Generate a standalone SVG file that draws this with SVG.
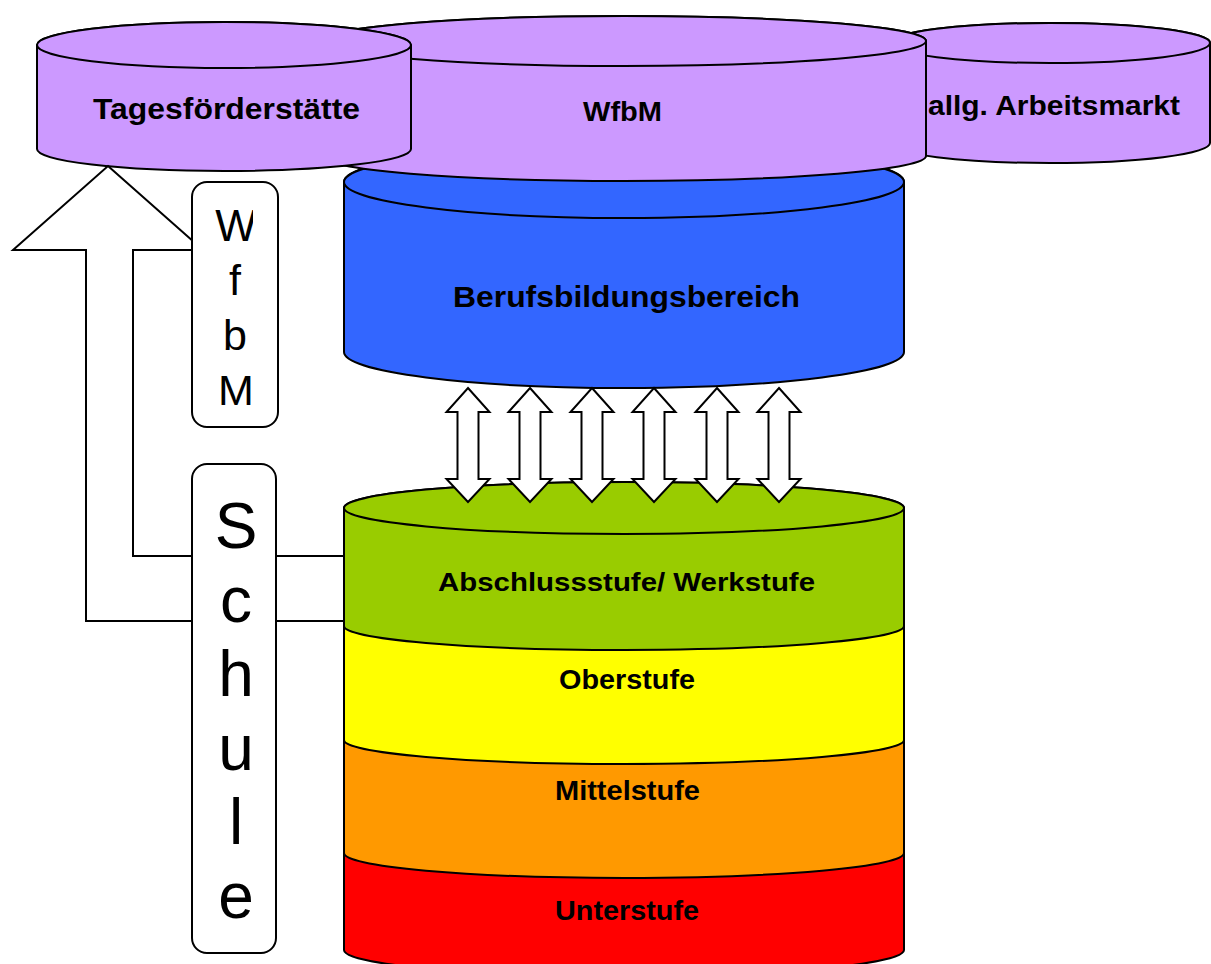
<svg xmlns="http://www.w3.org/2000/svg" xmlns:xlink="http://www.w3.org/1999/xlink" width="1211" height="964" viewBox="0 0 1211 964">
<style>
.cyl{stroke:#000;stroke-width:2;stroke-linejoin:round}
.purple{fill:#CC99FF}
.blue{fill:#3366FF}
.green{fill:#99CC00}
.yellow{fill:#FFFF00}
.orange{fill:#FF9900}
.red{fill:#FF0000}
.lbl{font-family:"Liberation Sans",Arial,sans-serif;font-weight:bold;fill:#000;text-anchor:middle}
.vert{font-family:"Liberation Sans",Arial,sans-serif;fill:#000;text-anchor:middle}
.box{fill:#fff;stroke:#000;stroke-width:2}
.arr{fill:#fff;stroke:#000;stroke-width:2;stroke-linejoin:miter}
</style>
<defs>
<path id="dbl" d="M0,388 L21.5,412 L10.5,412 L10.5,479 L21.5,479 L0,502 L-21.5,479 L-10.5,479 L-10.5,412 L-21.5,412 Z"/>
<clipPath id="wclip"><rect x="192" y="182" width="61" height="245"/></clipPath>
</defs>
<rect width="1211" height="964" fill="#fff"/>

<g id="berufsbildungsbereich">
<path class="cyl blue" d="M344,182 L344,352 A280,36 0 0 0 904,352 L904,182 A280,36 0 0 0 344,182 Z"/>
<ellipse class="cyl blue" cx="624" cy="182" rx="280" ry="36"/>
<text class="lbl" x="626.5" y="307" font-size="29" textLength="347" lengthAdjust="spacingAndGlyphs">Berufsbildungsbereich</text>
</g>

<g id="arbeitsmarkt">
<path class="cyl purple" d="M890,43 L890,143 A160,20 0 0 0 1210,143 L1210,43 A160,20 0 0 0 890,43 Z"/>
<ellipse class="cyl purple" cx="1050" cy="43" rx="160" ry="20"/>
<text class="lbl" x="1054" y="115" font-size="28" textLength="252" lengthAdjust="spacingAndGlyphs">allg. Arbeitsmarkt</text>
</g>

<g id="wfbm">
<path class="cyl purple" d="M322,41 L322,156 A302,25 0 0 0 926,156 L926,41 A302,25 0 0 0 322,41 Z"/>
<ellipse class="cyl purple" cx="624" cy="41" rx="302" ry="25"/>
<text class="lbl" x="622.5" y="121" font-size="28" textLength="79" lengthAdjust="spacingAndGlyphs">WfbM</text>
</g>

<g id="tagesfoerderstaette">
<path class="cyl purple" d="M37,45 L37,149 A187,22 0 0 0 411,149 L411,45 A187,23 0 0 0 37,45 Z"/>
<ellipse class="cyl purple" cx="224" cy="45" rx="187" ry="23"/>
<text class="lbl" x="226.5" y="119" font-size="30" textLength="267" lengthAdjust="spacingAndGlyphs">Tagesförderstätte</text>
</g>

<g id="unterstufe">
<path class="cyl red" d="M344,853 L344,950 A280,26 0 0 0 904,950 L904,853 A280,26 0 0 0 344,853 Z"/>
<text class="lbl" x="627" y="920" font-size="27" textLength="144" lengthAdjust="spacingAndGlyphs">Unterstufe</text>
</g>

<g id="mittelstufe">
<path class="cyl orange" d="M344,740 L344,853 A280,25 0 0 0 904,853 L904,740 A280,25 0 0 0 344,740 Z"/>
<text class="lbl" x="627.5" y="800" font-size="27" textLength="145" lengthAdjust="spacingAndGlyphs">Mittelstufe</text>
</g>

<g id="oberstufe">
<path class="cyl yellow" d="M344,626 L344,740 A280,24 0 0 0 904,740 L904,626 A280,24 0 0 0 344,626 Z"/>
<text class="lbl" x="627" y="689" font-size="27" textLength="136" lengthAdjust="spacingAndGlyphs">Oberstufe</text>
</g>

<g id="abschlussstufe">
<path class="cyl green" d="M344,508 L344,626 A280,24 0 0 0 904,626 L904,508 A280,26 0 0 0 344,508 Z"/>
<ellipse class="cyl green" cx="624" cy="508" rx="280" ry="26"/>
<text class="lbl" x="626.5" y="591" font-size="26.5" textLength="377" lengthAdjust="spacingAndGlyphs">Abschlussstufe/ Werkstufe</text>
</g>

<g id="connectors">
<polygon class="arr" stroke-width="1.6" points="108,166 203,250 133,250 133,556 344,556 344,621 86,621 86,250 13,250"/>
<use xlink:href="#dbl" href="#dbl" class="arr" x="468"/>
<use xlink:href="#dbl" href="#dbl" class="arr" x="530"/>
<use xlink:href="#dbl" href="#dbl" class="arr" x="592"/>
<use xlink:href="#dbl" href="#dbl" class="arr" x="654"/>
<use xlink:href="#dbl" href="#dbl" class="arr" x="717"/>
<use xlink:href="#dbl" href="#dbl" class="arr" x="779"/>
</g>

<g id="wfbm-label">
<rect class="box" x="192" y="182" width="86" height="245" rx="15" ry="15"/>
<text class="vert" x="236" y="241" font-size="44" clip-path="url(#wclip)">W</text>
<text class="vert" x="235" y="295" font-size="43">f</text>
<text class="vert" x="235" y="350" font-size="43">b</text>
<text class="vert" x="236" y="405" font-size="43">M</text>
</g>

<g id="schule-label">
<rect class="box" x="192" y="464" width="84" height="489" rx="15" ry="15"/>
<text class="vert" x="236" y="548" font-size="64">S</text>
<text class="vert" x="236" y="622" font-size="64">c</text>
<text class="vert" x="236" y="696" font-size="64">h</text>
<text class="vert" x="236" y="770" font-size="64">u</text>
<text class="vert" x="236" y="844" font-size="64">l</text>
<text class="vert" x="236" y="918" font-size="64">e</text>
</g>
</svg>
